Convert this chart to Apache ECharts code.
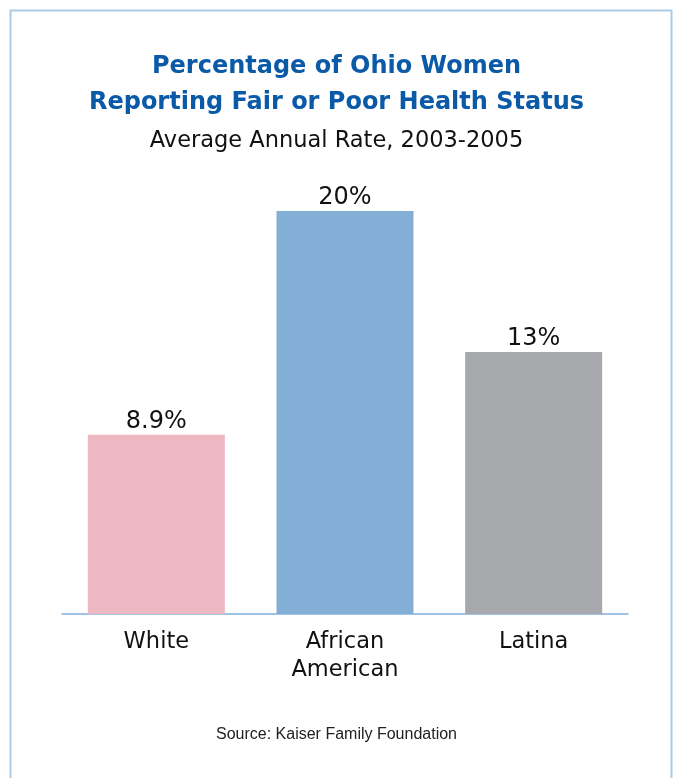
<!DOCTYPE html>
<html><head><meta charset="utf-8">
<script src="https://cdn.jsdelivr.net/npm/echarts@6/dist/echarts.min.js"></script>
<style>html,body{margin:0;padding:0;background:#fff}#c{width:673px;height:778px}</style>
</head><body><div id="c"></div>
<script>
const categories = ['White', 'African\nAmerican', 'Latina'];
const values = [8.9, 20, 13];
const labels = ['8.9%', '20%', '13%'];
const colors = ['#edb8c2', '#83afd6', '#a7a8ab'];

const chart = echarts.init(document.getElementById('c'));
chart.setOption({
  animation: false,
  backgroundColor: '#fff',
  graphic: [
    {type: 'polyline', shape: {points: [[10.5, 778], [10.5, 10.5], [671.5, 10.5], [671.5, 778]]},
     style: {stroke: '#a9cbe6', lineWidth: 2, fill: null}}
  ],
  title: [
    {text: 'Percentage of Ohio Women\nReporting Fair or Poor Health Status', left: 'center', top: 44,
     textStyle: {fontFamily: 'DejaVu Sans', fontWeight: 'bold', fontSize: 24, color: '#0a5aa8', lineHeight: 36}},
    {text: 'Average Annual Rate, 2003-2005', left: 'center', top: 125,
     textStyle: {fontFamily: 'DejaVu Sans', fontWeight: 'normal', fontSize: 22.5, color: '#111'}},
    {text: 'Source: Kaiser Family Foundation', left: 'center', top: 722,
     textStyle: {fontFamily: 'Liberation Sans', fontWeight: 'normal', fontSize: 16, color: '#222'}}
  ],
  grid: {left: 62, right: 45, top: 211, bottom: 164},
  xAxis: {
    type: 'category', data: categories,
    axisLine: {lineStyle: {color: '#7fb0dc', width: 1.5}},
    axisTick: {show: false},
    axisLabel: {fontFamily: 'DejaVu Sans', fontSize: 22.5, color: '#111', margin: 14, lineHeight: 28}
  },
  yAxis: {type: 'value', min: 0, max: 20, show: false, splitLine: {show: false}},
  series: [{
    type: 'bar', barWidth: 137,
    data: values.map((v, i) => ({value: v, itemStyle: {color: colors[i]}})),
    label: {show: true, position: 'top', distance: 1, formatter: p => labels[p.dataIndex],
      fontFamily: 'DejaVu Sans', fontSize: 24, color: '#111'}
  }]
});
</script></body></html>
